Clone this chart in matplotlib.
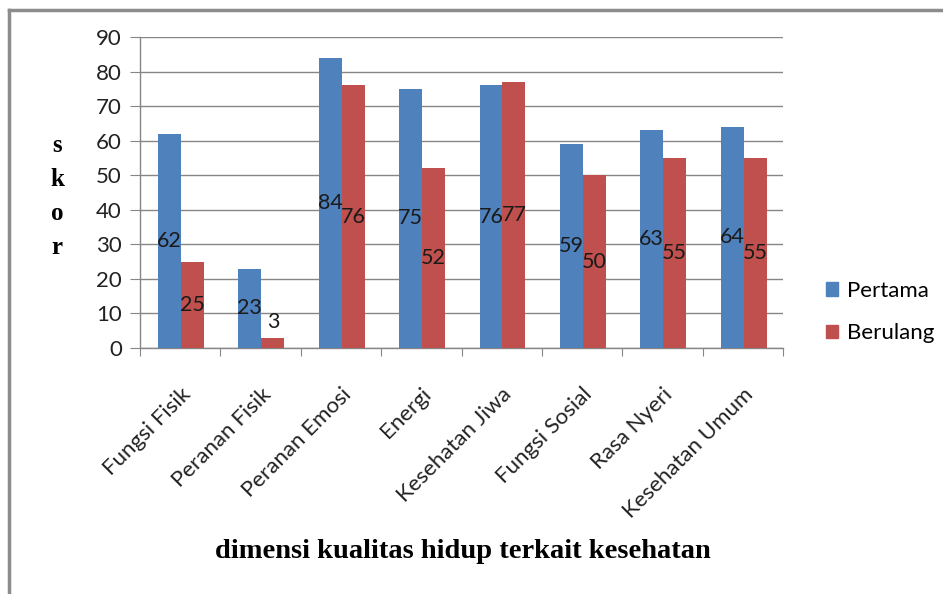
import matplotlib
matplotlib.use("Agg")
import matplotlib.pyplot as plt
import matplotlib.transforms as mtransforms
import numpy as np
from matplotlib.patches import Rectangle
from matplotlib.lines import Line2D

categories = ["Fungsi Fisik", "Peranan Fisik", "Peranan Emosi", "Energi",
              "Kesehatan Jiwa", "Fungsi Sosial", "Rasa Nyeri", "Kesehatan Umum"]
pertama = [62, 23, 84, 75, 76, 59, 63, 64]
berulang = [25, 3, 76, 52, 77, 50, 55, 55]
yticks = [0, 10, 20, 30, 40, 50, 60, 70, 80, 90]
series_names = ["Pertama", "Berulang"]

BLUE = "#4F81BD"
RED = "#C0504D"
GRID = "#868686"
sans = ["Lato", "DejaVu Sans"]
serif = ["Liberation Serif", "DejaVu Serif"]

fig = plt.figure(figsize=(9.43, 5.94), dpi=100)
ax = fig.add_axes([140/943, 1-348/594, (783-140)/943, (348-37)/594])

x = np.arange(len(categories))
w = 0.286
b1 = ax.bar(x - w/2 + 0.01, pertama, w, color=BLUE, zorder=3)
b2 = ax.bar(x + w/2 + 0.01, berulang, w, color=RED, zorder=3)

for bars, vals in ((b1, pertama), (b2, berulang)):
    for r, v in zip(bars, vals):
        cx = r.get_x() + r.get_width()/2
        if v < 8:
            ax.text(cx, v + 1.5, str(v), ha="center", va="bottom",
                    fontsize=15.5, family=sans, color="#1a1a1a", zorder=5)
        else:
            ax.text(cx, v/2, str(v), ha="center", va="center",
                    fontsize=15.5, family=sans, color="#1a1a1a", zorder=5)

ax.set_xlim(-0.5, len(categories) - 0.5)
ax.set_ylim(0, 90)
ax.set_yticks(yticks)
ax.set_yticklabels([str(t) for t in yticks], fontsize=16, family=sans, color="#222222")
ax.yaxis.grid(True, color=GRID, linewidth=1, zorder=0)
ax.set_axisbelow(True)

ax.set_xticks(np.arange(-0.5, len(categories), 1.0), minor=False)
ax.set_xticklabels([])
ax.set_xticks(x, minor=True)
ax.set_xticklabels(categories, minor=True, rotation=45, ha="right",
                   rotation_mode="anchor", fontsize=16, family=sans, color="#222222")
offset = mtransforms.ScaledTranslation(11/100, 0, fig.dpi_scale_trans)
for lab in ax.get_xticklabels(minor=True):
    lab.set_transform(lab.get_transform() + offset)
ax.tick_params(axis="x", which="minor", length=0, pad=26)
ax.tick_params(axis="x", which="major", length=6, color=GRID, direction="out")
ax.tick_params(axis="y", length=7, color=GRID, direction="out", pad=6)

for s in ("top", "right"):
    ax.spines[s].set_visible(False)
for s in ("left", "bottom"):
    ax.spines[s].set_color(GRID)
    ax.spines[s].set_linewidth(1)

# stacked y label
for i, ch in enumerate("skor"):
    fig.text(57/943, 1 - (146 + i*34)/594, ch, ha="center", va="center",
             fontsize=18, fontweight="bold", family=serif)

fig.text(463/943, 1 - 552/594, "dimensi kualitas hidup terkait kesehatan",
         ha="center", va="center", fontsize=20.5, fontweight="bold", family=serif)

# legend
handles = [Rectangle((0, 0), 1, 1, color=BLUE), Rectangle((0, 0), 1, 1, color=RED)]
leg = fig.legend(handles, series_names, loc="upper left",
                 bbox_to_anchor=(806/943, 1 - 261/594), frameon=False,
                 prop={"family": sans, "size": 16}, handlelength=0.55,
                 handleheight=0.55, handletextpad=0.4, labelspacing=1.0)

# outer border (left and top visible)
fig.add_artist(Line2D([9/943, 9/943], [0, 1 - 10/594], color="#8c8c8c", linewidth=2.5,
                      transform=fig.transFigure))
fig.add_artist(Line2D([9/943, 1], [1 - 10/594, 1 - 10/594], color="#8c8c8c", linewidth=2.5,
                      transform=fig.transFigure))

fig.savefig("out.png", dpi=100)
